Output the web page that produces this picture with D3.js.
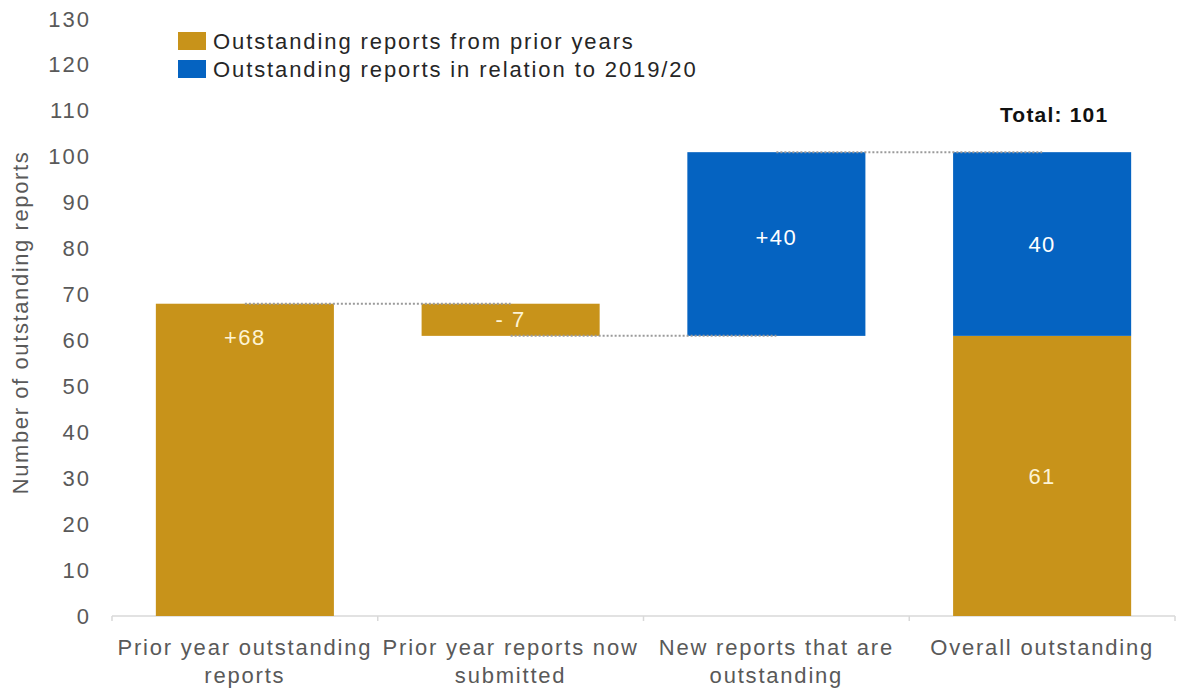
<!DOCTYPE html>
<html>
<head>
<meta charset="utf-8">
<script src="https://cdn.jsdelivr.net/npm/d3@7"></script>
<style>
  html, body { margin: 0; padding: 0; background: #ffffff; }
  svg { display: block; font-family: "Liberation Sans", Arial, sans-serif; }
</style>
</head>
<body>
<svg id="chart" width="1177" height="689"></svg>
<script>
// Categories along the x axis (each entry is the wrapped lines of one label)
const categoryLines = [
  ["Prior year outstanding", "reports"],
  ["Prior year reports now", "submitted"],
  ["New reports that are", "outstanding"],
  ["Overall outstanding"]
];
// Waterfall steps for the first three columns
const stepValues = [68, -7, 40];
const stepSeries = ["prior", "prior", "current"];
// Stacked total in the last column
const totalPrior = [61];
const totalCurrent = [40];
// Axis ticks
const yTicks = [0, 10, 20, 30, 40, 50, 60, 70, 80, 90, 100, 110, 120, 130];
// Legend entries
const seriesKeys = ["prior", "current"];
const seriesNames = ["Outstanding reports from prior years", "Outstanding reports in relation to 2019/20"];

const colors = { prior: "#C8931A", current: "#0563C1" };
const labelColors = { prior: "#FDF3D5", current: "#FFFFFF" };

const svg = d3.select("#chart");
const x = d3.scaleBand()
  .domain(d3.range(categoryLines.length))
  .range([112, 1175])
  .paddingInner(0.33)
  .paddingOuter(0.165);
const y = d3.scaleLinear().domain([0, 130]).range([616, 19]);

// Build waterfall segments from the steps
const segments = [];
let running = 0;
stepValues.forEach((v, i) => {
  const start = running;
  const end = running + v;
  segments.push({ i, lo: Math.min(start, end), hi: Math.max(start, end), start, end, series: stepSeries[i],
                  label: (v >= 0 ? "+" : "- ") + Math.abs(v) });
  running = end;
});
const totalIndex = stepValues.length;
segments.push({ i: totalIndex, lo: 0, hi: totalPrior[0], series: "prior", label: String(totalPrior[0]) });
segments.push({ i: totalIndex, lo: totalPrior[0], hi: totalPrior[0] + totalCurrent[0], series: "current", label: String(totalCurrent[0]) });
const grandTotal = totalPrior[0] + totalCurrent[0];

// Baseline with category separator ticks
const baseY = y(0);
svg.append("line")
  .attr("x1", x.range()[0]).attr("x2", x.range()[1])
  .attr("y1", baseY).attr("y2", baseY)
  .attr("stroke", "#D9D9D9").attr("stroke-width", 1.5);
const step = x.step();
d3.range(categoryLines.length + 1).forEach(k => {
  const bx = x.range()[0] + k * step;
  svg.append("line")
    .attr("x1", bx).attr("x2", bx)
    .attr("y1", baseY).attr("y2", baseY + 5)
    .attr("stroke", "#D9D9D9").attr("stroke-width", 1.5);
});

// Y axis tick labels (no axis line)
const yAxis = svg.append("g").attr("transform", "translate(91,0)")
  .call(d3.axisLeft(y).tickValues(yTicks).tickSize(0).tickPadding(0));
yAxis.select(".domain").remove();
yAxis.selectAll("text")
  .attr("font-family", "'Liberation Sans', Arial, sans-serif")
  .attr("font-size", 22)
  .attr("letter-spacing", 2)
  .attr("fill", "#595959");

// Y axis title
svg.append("text")
  .attr("transform", `translate(28,${(y(0) + y(130)) / 2 + 5}) rotate(-90)`)
  .attr("text-anchor", "middle")
  .attr("font-size", 22)
  .attr("letter-spacing", 1.6)
  .attr("fill", "#595959")
  .text("Number of outstanding reports");

// Bars
svg.append("g").selectAll("rect")
  .data(segments)
  .join("rect")
  .attr("x", d => x(d.i))
  .attr("width", x.bandwidth())
  .attr("y", d => y(d.hi))
  .attr("height", d => y(d.lo) - y(d.hi))
  .attr("fill", d => colors[d.series]);

// Dotted connectors between consecutive columns
const connectorLevels = [];
let acc = 0;
stepValues.forEach((v, i) => { acc += v; connectorLevels.push({ from: i, level: acc }); });
svg.append("g").selectAll("line")
  .data(connectorLevels)
  .join("line")
  .attr("x1", d => x(d.from) + x.bandwidth() / 2)
  .attr("x2", d => x(d.from + 1) + x.bandwidth() / 2)
  .attr("y1", d => y(d.level))
  .attr("y2", d => y(d.level))
  .attr("stroke", "#9A9A9A")
  .attr("stroke-width", 2)
  .attr("stroke-dasharray", "2,2");

// Value labels inside the bars
const labelOffset = (d) => {
  if (d.i === 0) return y(d.hi) + 34;
  if (d.i === 2) return (y(d.hi) + y(d.lo)) / 2 - 7;
  return (y(d.hi) + y(d.lo)) / 2;
};
svg.append("g").selectAll("text")
  .data(segments)
  .join("text")
  .attr("x", d => x(d.i) + x.bandwidth() / 2)
  .attr("y", d => labelOffset(d))
  .attr("dy", "0.35em")
  .attr("text-anchor", "middle")
  .attr("font-size", 22)
  .attr("letter-spacing", 1.5)
  .attr("fill", d => labelColors[d.series])
  .text(d => d.label);

// Total annotation above the last column
svg.append("text")
  .attr("x", x(totalIndex) + x.bandwidth() / 2 + 12)
  .attr("y", 115)
  .attr("dy", "0.35em")
  .attr("text-anchor", "middle")
  .attr("font-size", 21)
  .attr("font-weight", "bold")
  .attr("letter-spacing", 1.2)
  .attr("fill", "#111111")
  .text("Total: " + grandTotal);

// Category labels
const catG = svg.append("g");
categoryLines.forEach((lines, i) => {
  const t = catG.append("text")
    .attr("x", x(i) + x.bandwidth() / 2)
    .attr("y", 647)
    .attr("text-anchor", "middle")
    .attr("font-size", 22)
    .attr("letter-spacing", 1.8)
    .attr("fill", "#595959");
  lines.forEach((ln, j) => {
    t.append("tspan")
      .attr("x", x(i) + x.bandwidth() / 2)
      .attr("dy", j === 0 ? "0.35em" : 28)
      .text(ln);
  });
});

// Legend
const legend = svg.append("g").attr("transform", "translate(178,0)");
seriesKeys.forEach((k, j) => {
  const cy = 41 + j * 28;
  legend.append("rect")
    .attr("x", 0).attr("y", cy - 9)
    .attr("width", 28).attr("height", 18)
    .attr("fill", colors[k]);
  legend.append("text")
    .attr("x", 35).attr("y", cy)
    .attr("dy", "0.35em")
    .attr("font-size", 22)
    .attr("letter-spacing", 1.9)
    .attr("fill", "#262626")
    .text(seriesNames[j]);
});
</script>
</body>
</html>
